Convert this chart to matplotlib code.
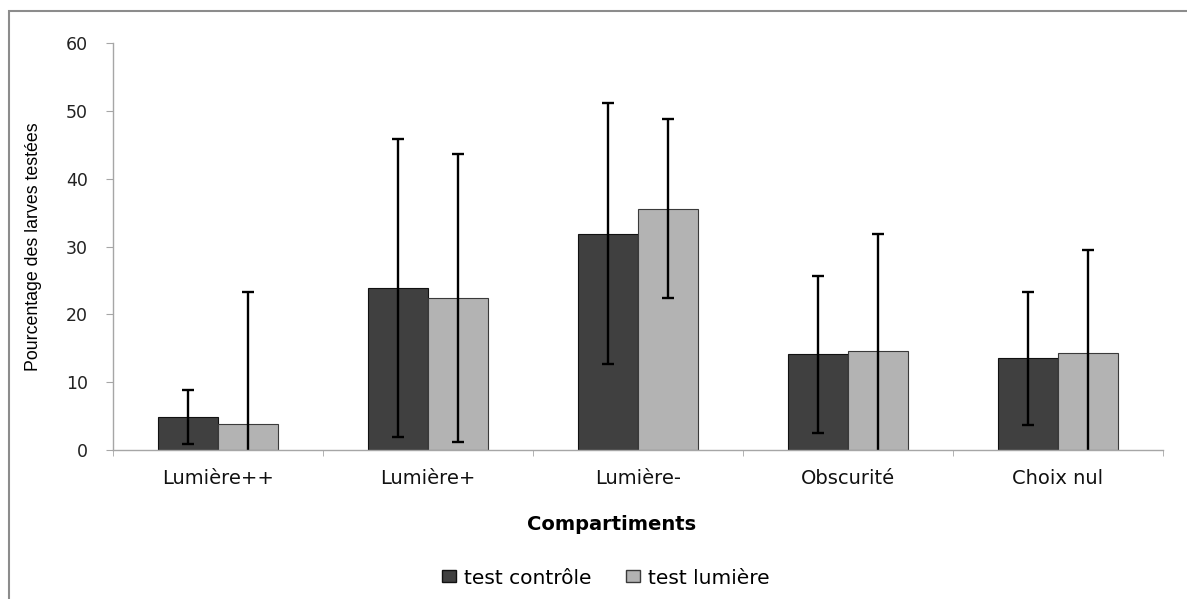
import matplotlib
matplotlib.use("Agg")
import matplotlib.pyplot as plt
import numpy as np
from matplotlib.patches import Rectangle, Patch

categories = ["Lumière++", "Lumière+", "Lumière-", "Obscurité", "Choix nul"]
controle = [4.85, 23.85, 31.9, 14.1, 13.5]
controle_err = [4.0, 22.0, 19.2, 11.55, 9.85]
lumiere = [3.8, 22.45, 35.55, 14.55, 14.25]
lumiere_err = [19.45, 21.25, 13.2, 17.3, 15.2]
yticks = [0, 10, 20, 30, 40, 50, 60]

W, H = 1187, 599
fig = plt.figure(figsize=(W / 100, H / 100), dpi=100)
fig.patch.set_facecolor("white")

# chart frame
fig.add_artist(Rectangle((9 / W, -0.1), 1.2, (H - 11) / H + 0.1,
                         transform=fig.transFigure, fill=False,
                         edgecolor="#8c8c8c", linewidth=1.5))

ax = fig.add_axes([113 / W, (H - 450) / H, (1163 - 113) / W, (450 - 43) / H])

x = np.arange(len(categories))
w = 0.2857
ekw = dict(ecolor="black", elinewidth=1.7, capsize=4.5, capthick=1.7)
ax.bar(x - w / 2, controle, w, color="#404040", edgecolor="#111111",
       linewidth=0.8, yerr=controle_err, error_kw=ekw, label="test contrôle")
ax.bar(x + w / 2, lumiere, w, color="#b3b3b3", edgecolor="#3a3a3a",
       linewidth=0.8, yerr=lumiere_err, error_kw=ekw, label="test lumière")

ax.set_xlim(-0.5, len(categories) - 0.5)
ax.set_ylim(0, 60)
ax.set_yticks(yticks)
ax.set_yticklabels([str(v) for v in yticks], fontsize=12.5, color="#222222",
                   family="DejaVu Sans")
ax.set_xticks(x)
ax.set_xticklabels(categories, fontsize=14, family="DejaVu Sans", color="#111111")
ax.set_xticks(np.arange(-0.5, len(categories)), minor=True)
ax.tick_params(axis="x", which="major", length=0, pad=13.5)
ax.tick_params(axis="x", which="minor", length=4.5, color="#a6a6a6", direction="out")
ax.tick_params(axis="y", length=5, color="#a6a6a6", direction="out", pad=13)

for s in ["top", "right"]:
    ax.spines[s].set_visible(False)
for s in ["left", "bottom"]:
    ax.spines[s].set_color("#a6a6a6")
    ax.spines[s].set_linewidth(1.0)

ax.set_ylabel("Pourcentage des larves testées", fontsize=12.8,
              family="Liberation Sans", color="black")
ax.yaxis.set_label_coords(-0.0676, 0.5)
ax.set_xlabel("Compartiments", fontsize=14, family="DejaVu Sans",
              fontweight="bold", color="black")
ax.xaxis.set_label_coords((612 - 113) / 1050, -0.160)

handles = [Patch(facecolor="#404040", edgecolor="#111111", label="test contrôle"),
           Patch(facecolor="#b3b3b3", edgecolor="#3a3a3a", label="test lumière")]
fig.legend(handles=handles, loc="center", bbox_to_anchor=(606 / W, (H - 578) / H),
           ncol=2, frameon=False, prop={"family": "DejaVu Sans", "size": 14.5},
           handlelength=0.7, handleheight=0.55, handletextpad=0.4,
           columnspacing=1.7, borderpad=0)

fig.savefig("out.png", dpi=100)
